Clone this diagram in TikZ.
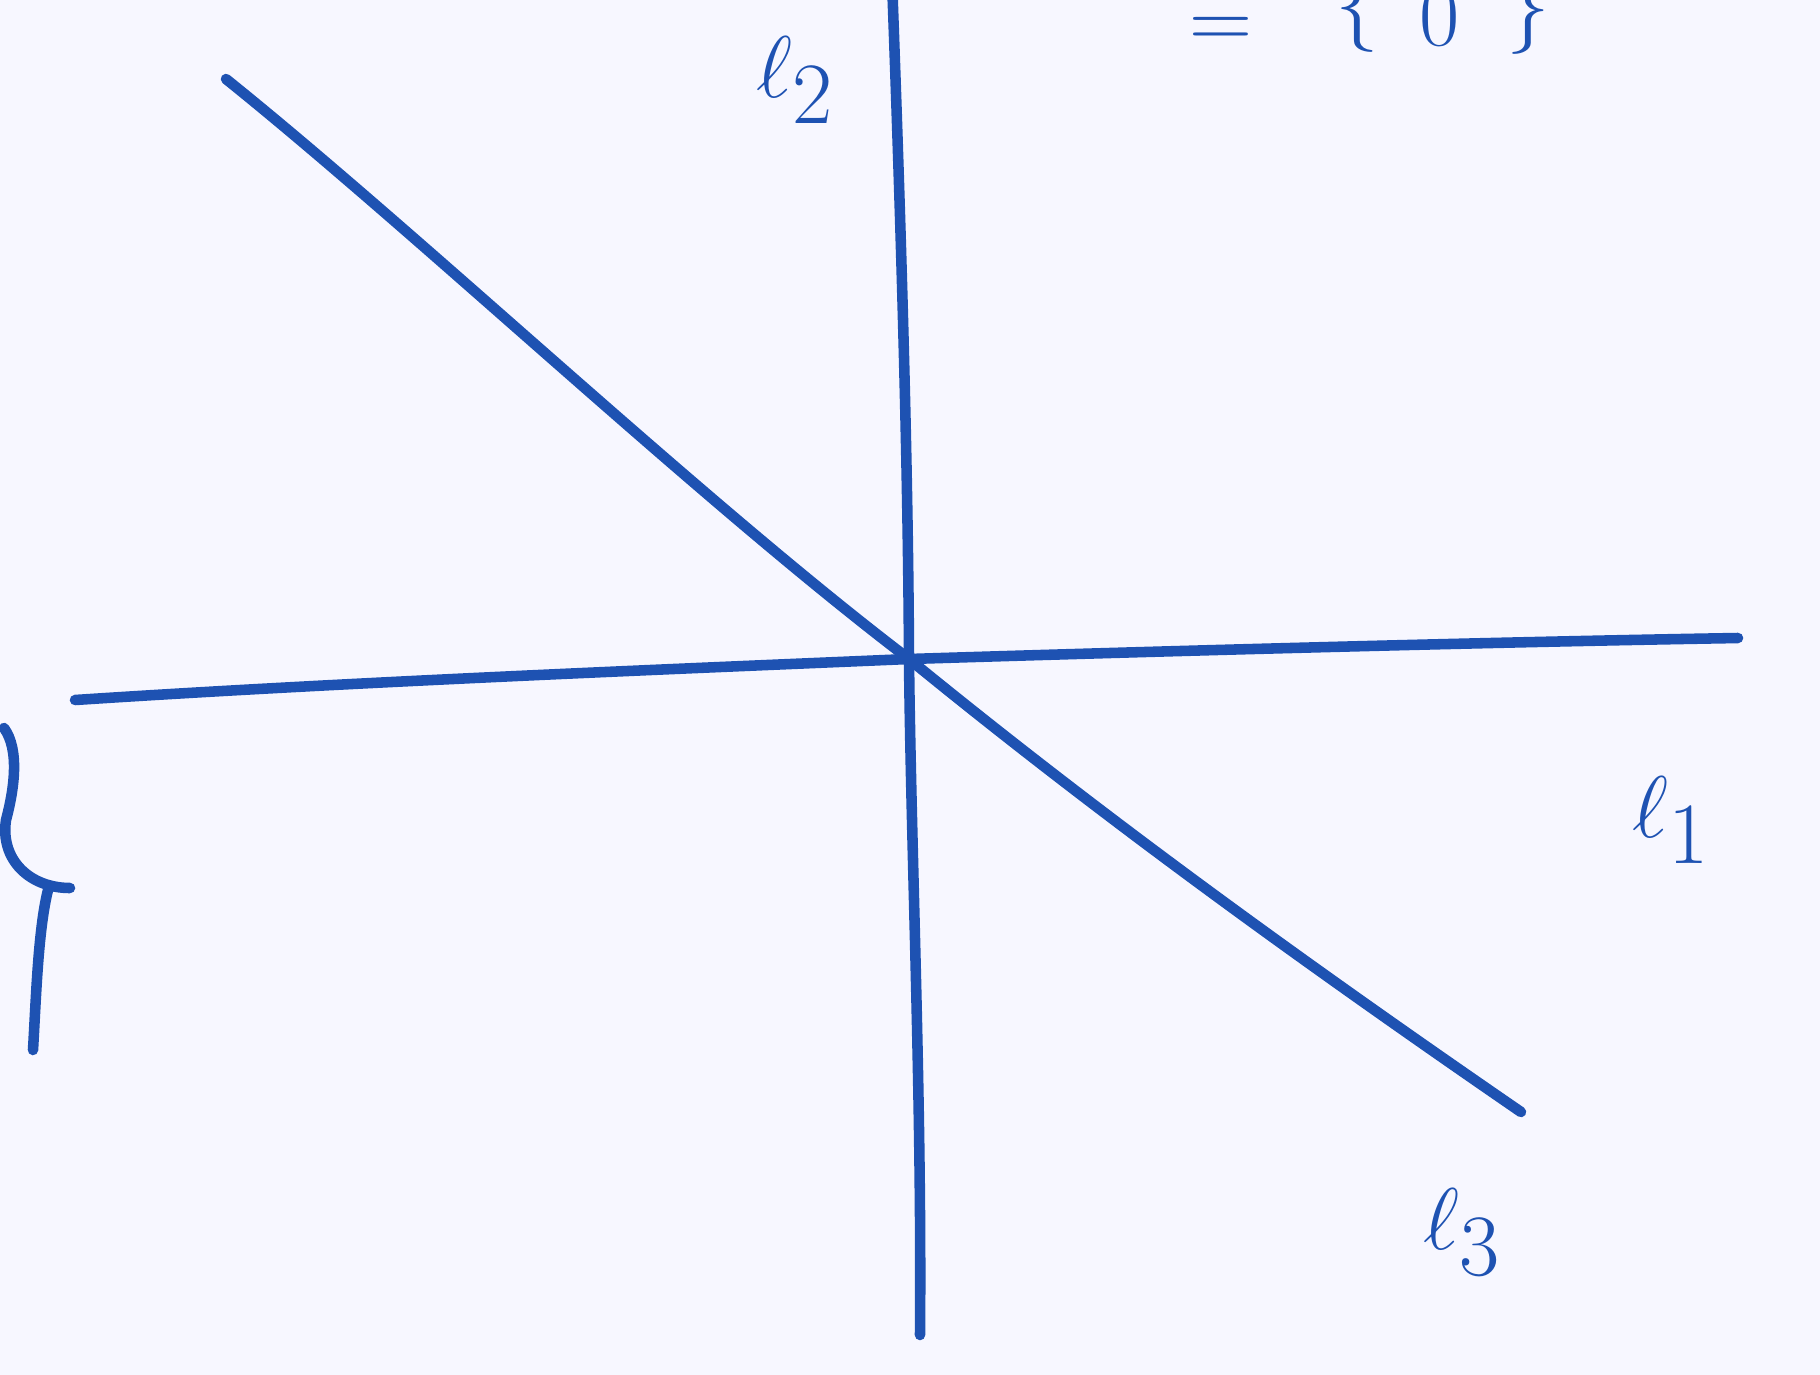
\documentclass[tikz,border=0pt]{standalone}
\begin{document}
\begin{tikzpicture}[x=0.01cm,y=-0.01cm,
  ink/.style={draw=inkblue,line width=3pt,line cap=round,line join=round},
  lbl/.style={text=inkblue,font=\fontsize{54}{60}\selectfont,inner sep=0pt},
  toptxt/.style={text=inkblue,font=\fontsize{37}{42}\selectfont,inner sep=0pt}]
\definecolor{inkblue}{RGB}{30,82,178}
\useasboundingbox (0,0) rectangle (1820,1375);
\clip (0,0) rectangle (1820,1375);
\fill[white!97!blue] (0,0) rectangle (1820,1375);
% endpoints
\coordinate (O) at (909,659);
\coordinate (a1) at (75,700);
\coordinate (b1) at (1738,638);
\coordinate (a2) at (892,-20);
\coordinate (b2) at (920,1335);
\coordinate (a3) at (226,79);
\coordinate (b3) at (1521,1112);
% line l1
\draw[ink] (a1) .. controls (350,682) and (650,670) .. (O) .. controls (1200,650) and (1500,642) .. (b1);
% line l2
\draw[ink] (a2) .. controls (900,200) and (908,450) .. (O) .. controls (911,850) and (922,1100) .. (b2);
% line l3
\draw[ink] (a3) .. controls (420,235) and (700,500) .. (O) .. controls (1100,815) and (1300,960) .. (b3);
% labels
\node[lbl] (l1) at (1671,820) {$\ell_1$};
\node[lbl] (l2) at (795,80) {$\ell_2$};
\node[lbl] (l3) at (1462,1232) {$\ell_3$};
% partial top text (cut by the top edge, as in the reference)
\node[toptxt,anchor=base] (eq) at (1221,48) {$=$};
\node[toptxt,anchor=base] (lb) at (1357,30) {$\{$};
\node[toptxt,anchor=base] (zero) at (1440,45) {$0$};
\node[toptxt,anchor=base] (rb) at (1528,32) {$\}$};
% partial brace at left edge
\draw[ink] (4,728) .. controls (20,750) and (14,790) .. (6,820) .. controls (0,860) and (30,888) .. (70,888)
  (48,890) .. controls (38,930) and (36,1000) .. (33,1050);
\end{tikzpicture}
\end{document}
